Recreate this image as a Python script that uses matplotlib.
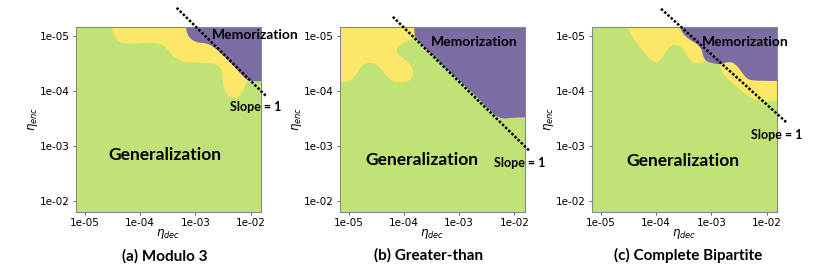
import numpy as np
import matplotlib
matplotlib.use("Agg")
import matplotlib.pyplot as plt
from matplotlib.ticker import FixedLocator, FixedFormatter, NullLocator

# ---------------- data (log10 exponents) ----------------
tick_values = [1e-5, 1e-4, 1e-3, 1e-2]
tick_labels = ["1e-05", "1e-04", "1e-03", "1e-02"]
axis_lim_exp = (-5.17, -1.81)

titles = ["(a) Modulo 3", "(b) Greater-than", "(c) Complete Bipartite"]
phase_labels = ["Generalization", "Memorization", "Slope = 1"]

# region boundaries: open curves that start and end outside the plotting area
# panel (a)
a_yellow_x = [-4.517, -4.511, -4.487, -4.396, -4.215, -3.822, -3.581, -3.460, -3.339, -3.158,
              -2.856, -2.615, -2.524, -2.506, -2.482, -2.403, -2.283, -2.192, -2.113, -2.083,
              -2.041, -1.400]
a_yellow_y = [-5.500, -5.121, -5.012, -4.897, -4.849, -4.879, -4.849, -4.698, -4.577, -4.517,
              -4.517, -4.487, -4.396, -4.215, -4.034, -3.913, -3.865, -3.913, -4.034, -4.155,
              -4.191, -4.191]
a_purple_x = [-3.170, -3.170, -3.146, -3.068, -2.947, -2.826, -2.723, -2.615, -2.434, -2.252,
              -2.132, -2.059, -1.981, -1.400]
a_purple_y = [-5.500, -5.151, -5.030, -4.928, -4.879, -4.873, -4.837, -4.758, -4.589, -4.396,
              -4.263, -4.197, -4.179, -4.179]
a_slope_x = [-3.339, -1.721]
a_slope_y = [-5.513, -3.913]

# panel (b)
b_yellow_x = [-3.760, -3.798, -3.919, -4.070, -4.142, -4.118, -3.979, -3.859, -3.828,
              -3.889, -4.070, -4.221, -4.342, -4.463, -4.583, -4.704, -4.795, -4.885, -4.976,
              -5.097, -5.500]
b_yellow_y = [-5.500, -4.988, -4.909, -4.849, -4.758, -4.668, -4.577, -4.457, -4.306,
              -4.185, -4.155, -4.185, -4.306, -4.457, -4.517, -4.505, -4.426, -4.275, -4.185,
              -4.161, -4.155]
b_purple_x = [-3.816, -3.816, -3.804, -3.527, -3.225, -2.923, -2.633, -2.440, -2.319, -2.198,
              -2.017, -1.400]
b_purple_y = [-5.500, -5.121, -4.964, -4.698, -4.396, -4.124, -3.853, -3.641, -3.539, -3.496,
              -3.520, -3.532]
b_slope_x = [-4.203, -1.727]
b_slope_y = [-5.350, -2.917]

# panel (c)
c_yellow_x = [-4.523, -4.523, -4.475, -4.384, -4.233, -4.112, -4.022, -3.931, -3.841, -3.750,
              -3.659, -3.569, -3.478, -3.418, -3.327, -3.206, -3.116, -2.965, -2.868, -2.832,
              -2.784, -2.663, -2.542, -2.421, -2.301, -2.180, -1.400]
c_yellow_y = [-5.500, -5.151, -5.060, -4.909, -4.728, -4.577, -4.517, -4.547, -4.698, -4.819,
              -4.849, -4.819, -4.728, -4.607, -4.517, -4.505, -4.547, -4.523, -4.493, -4.427,
              -4.306, -4.185, -4.094, -3.973, -3.883, -3.822, -3.822]
c_purple_x = [-3.581, -3.569, -3.508, -3.388, -3.255, -3.176, -3.146, -3.098, -2.965, -2.844,
              -2.723, -2.633, -2.542, -2.452, -2.361, -2.240, -1.400]
c_purple_y = [-5.500, -5.151, -5.030, -4.928, -4.855, -4.758, -4.626, -4.541, -4.505, -4.481,
              -4.523, -4.529, -4.469, -4.348, -4.227, -4.185, -4.185]
c_slope_x = [-3.913, -1.636]
c_slope_y = [-5.495, -3.430]

# label anchor positions (log10 exponents): generalization, memorization, slope
a_text = [(-3.551, -2.844), (-1.920, -5.018), (-1.908, -3.714)]
b_text = [(-3.677, -2.754), (-2.723, -4.897), (-1.896, -2.687)]
c_text = [(-3.508, -2.735), (-2.379, -4.891), (-1.817, -3.200)]

# ---------------- style ----------------
GREEN = "#c0e276"
YELLOW = "#fde766"
PURPLE = "#7b6ca3"
BOLD_FONT = ["Lato", "DejaVu Sans"]
FAR_TOP, FAR_RIGHT, FAR_LEFT = -5.5, -1.4, -5.5


def smooth_open(xs, ys, n=3):
    p = np.column_stack([xs, ys]).astype(float)
    for _ in range(n):
        a = 0.75 * p[:-1] + 0.25 * p[1:]
        b = 0.25 * p[:-1] + 0.75 * p[1:]
        mid = np.empty((2 * len(a), 2))
        mid[0::2] = a
        mid[1::2] = b
        p = np.vstack([p[:1], mid, p[-1:]])
    return p[:, 0], p[:, 1]


def fill_region(ax, xs, ys, corner, color, z):
    sx, sy = smooth_open(xs, ys)
    sx = np.append(sx, corner[0])
    sy = np.append(sy, corner[1])
    ax.fill(10 ** sx, 10 ** sy, color=color, lw=0, zorder=z)


panels = [
    dict(yx=a_yellow_x, yy=a_yellow_y, ycorner=(FAR_RIGHT, FAR_TOP),
         px=a_purple_x, py=a_purple_y, sx=a_slope_x, sy=a_slope_y, txt=a_text),
    dict(yx=b_yellow_x, yy=b_yellow_y, ycorner=(FAR_LEFT, FAR_TOP),
         px=b_purple_x, py=b_purple_y, sx=b_slope_x, sy=b_slope_y, txt=b_text),
    dict(yx=c_yellow_x, yy=c_yellow_y, ycorner=(FAR_RIGHT, FAR_TOP),
         px=c_purple_x, py=c_purple_y, sx=c_slope_x, sy=c_slope_y, txt=c_text),
]

W, H = 822, 280
fig = plt.figure(figsize=(W / 100, H / 100), dpi=100)
lefts = [75.7, 339.5, 591.7]
ax_w, ax_h = 185.3, 185.0
ax_top = 26.7
title_centers = [(165, 256), (428.3, 255.5), (688.3, 255.5)]

for i, P in enumerate(panels):
    ax = fig.add_axes([lefts[i] / W, 1 - (ax_top + ax_h) / H, ax_w / W, ax_h / H])
    ax.set_xscale("log")
    ax.set_yscale("log")
    lo, hi = 10 ** axis_lim_exp[0], 10 ** axis_lim_exp[1]
    ax.set_xlim(lo, hi)
    ax.set_ylim(hi, lo)
    ax.set_facecolor(GREEN)

    fill_region(ax, P["yx"], P["yy"], P["ycorner"], YELLOW, 1)
    fill_region(ax, P["px"], P["py"], (FAR_RIGHT, FAR_TOP), PURPLE, 2)

    ax.plot(10 ** np.array(P["sx"]), 10 ** np.array(P["sy"]), color="black", lw=1.8,
            linestyle=(0, (1, 0.75)), clip_on=False, zorder=5)

    (gxx, gyy), (mxx, myy), (sxx, syy) = P["txt"]
    ax.text(10 ** gxx, 10 ** gyy, phase_labels[0], ha="center", va="center",
            fontsize=12.5, fontweight="bold", family=BOLD_FONT, zorder=6)
    ax.text(10 ** mxx, 10 ** myy, phase_labels[1], ha="center", va="center",
            fontsize=10, fontweight="bold", family=BOLD_FONT, clip_on=False, zorder=6)
    ax.text(10 ** sxx, 10 ** syy, phase_labels[2], ha="center", va="center",
            fontsize=9, fontweight="bold", family=BOLD_FONT, clip_on=False, zorder=6)

    for axis in (ax.xaxis, ax.yaxis):
        axis.set_major_locator(FixedLocator(tick_values))
        axis.set_major_formatter(FixedFormatter(tick_labels))
        axis.set_minor_locator(NullLocator())
    ax.tick_params(labelsize=7.5, length=2.5, width=0.6, pad=2, color="#555555")
    for s in ax.spines.values():
        s.set_color("#8a8a8a")
        s.set_linewidth(0.8)

    ax.set_xlabel(r"$\eta_{dec}$", fontsize=8.5)
    ax.set_ylabel(r"$\eta_{enc}$", fontsize=8.5)
    ax.xaxis.set_label_coords(0.5, -0.085)
    ax.yaxis.set_label_coords(-0.19, 0.5)

    tx, ty = title_centers[i]
    fig.text(tx / W, 1 - ty / H, titles[i], ha="center", va="center",
             fontsize=11, fontweight="bold", family=BOLD_FONT)

fig.savefig("out.png", dpi=100)
